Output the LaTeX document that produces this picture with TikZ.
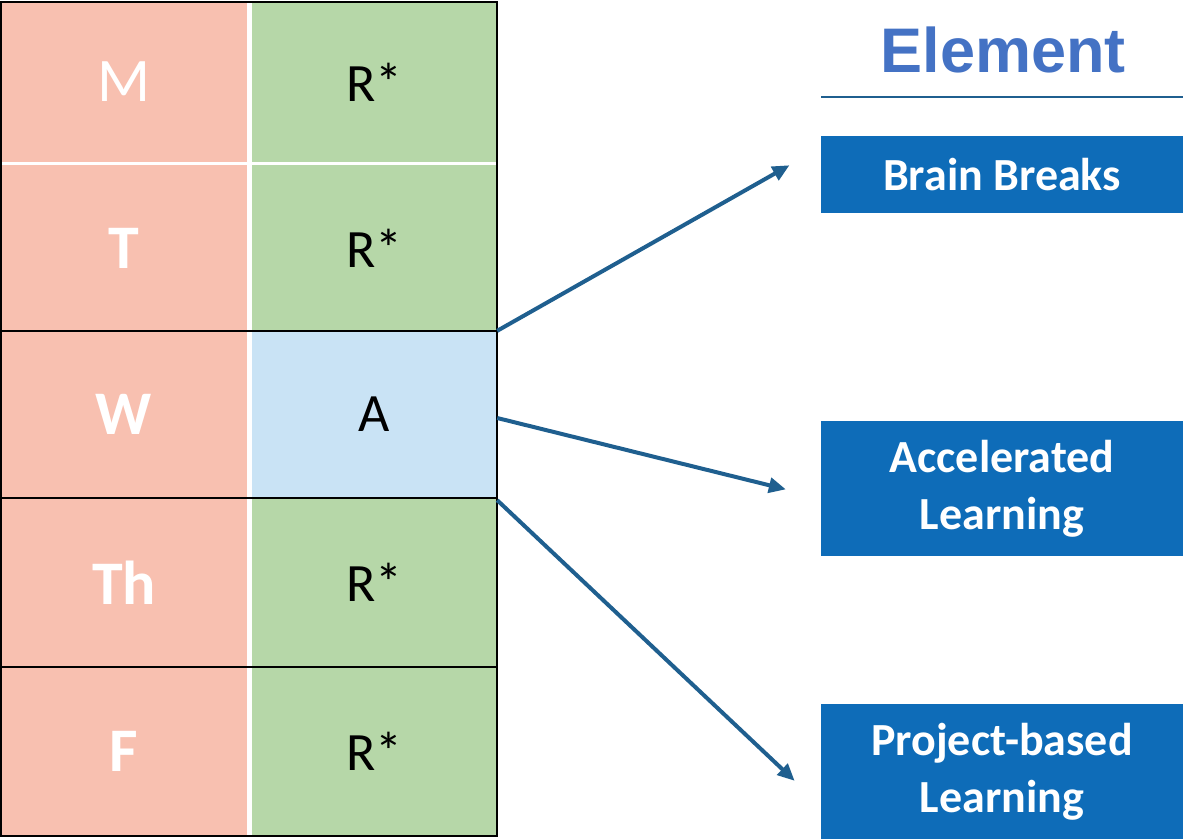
\documentclass[tikz,border=0pt]{standalone}
\usepackage{fontspec}
\setmainfont{Carlito}
\newfontfamily\headfont{Liberation Sans}
\usetikzlibrary{arrows.meta}
\definecolor{dayred}{HTML}{F8C0B0}
\definecolor{slotgreen}{HTML}{B6D7A8}
\definecolor{slotblue}{HTML}{C9E3F5}
\definecolor{arrowblue}{HTML}{1F5F8F}
\definecolor{boxblue}{HTML}{0E6CB8}
\definecolor{headblue}{HTML}{4472C4}
\begin{document}
\begin{tikzpicture}[x=1pt,y=-1pt,
  day/.style={rectangle, fill=dayred, minimum width=246pt, inner sep=0pt, text=white, font=\fontsize{62}{62}\selectfont\bfseries},
  slot/.style={rectangle, fill=slotgreen, minimum width=245pt, inner sep=0pt, font=\fontsize{54}{54}\selectfont},
  elem/.style={rectangle, fill=boxblue, minimum width=362pt, inner sep=0pt, text=white, align=center, font=\fontsize{46}{57}\selectfont\bfseries},
  link/.style={arrowblue, line width=4pt, shorten >=36pt, -{Triangle[length=17pt,width=15pt]}}]
\useasboundingbox (0,0) rectangle (1183,839);
\node[day, minimum height=160pt, font=\fontsize{62}{62}\selectfont] (d0) at (124,82){M};
\node[slot, minimum height=160pt] (s0) at (374.5,82){R*};
\node[day, minimum height=166pt] (d1) at (124,248){T};
\node[slot, minimum height=166pt] (s1) at (374.5,248){R*};
\node[day, minimum height=167pt] (d2) at (124,414.5){W};
\node[slot, fill=slotblue, minimum height=167pt] (s2) at (374.5,414.5){A};
\node[day, minimum height=169pt] (d3) at (124,582.5){Th};
\node[slot, minimum height=169pt] (s3) at (374.5,582.5){R*};
\node[day, minimum height=169pt] (d4) at (124,751.5){F};
\node[slot, minimum height=169pt] (s4) at (374.5,751.5){R*};
\draw[line width=2.5pt] (1,2) rectangle (497,836);
\draw[line width=2.5pt] (d2.north west) -- (s2.north east);
\draw[line width=2.5pt] (d3.north west) -- (s3.north east);
\draw[line width=2.5pt] (d4.north west) -- (s4.north east);

\node[text=headblue, font=\fontsize{63}{63}\selectfont\headfont\bfseries] (head) at (1003,50){Element};
\draw[arrowblue, line width=2pt] (821,97) -- (1183,97);
\node[elem, minimum height=77pt] (e0) at (1002,174.5){Brain Breaks};
\node[elem, minimum height=135pt] (e1) at (1002,488.5){Accelerated\\Learning};
\node[elem, minimum height=135pt] (e2) at (1002,771.5){Project-based\\Learning};
\draw[link](s2.north east) -- ([yshift=27pt]e0.west);
\draw[link]([yshift=-3.5pt]s2.east) -- ([yshift=-9.5pt]e1.west);
\draw[link]([yshift=-2pt]s2.south east) -- ([yshift=-34pt]e2.west);

\end{tikzpicture}
\end{document}
